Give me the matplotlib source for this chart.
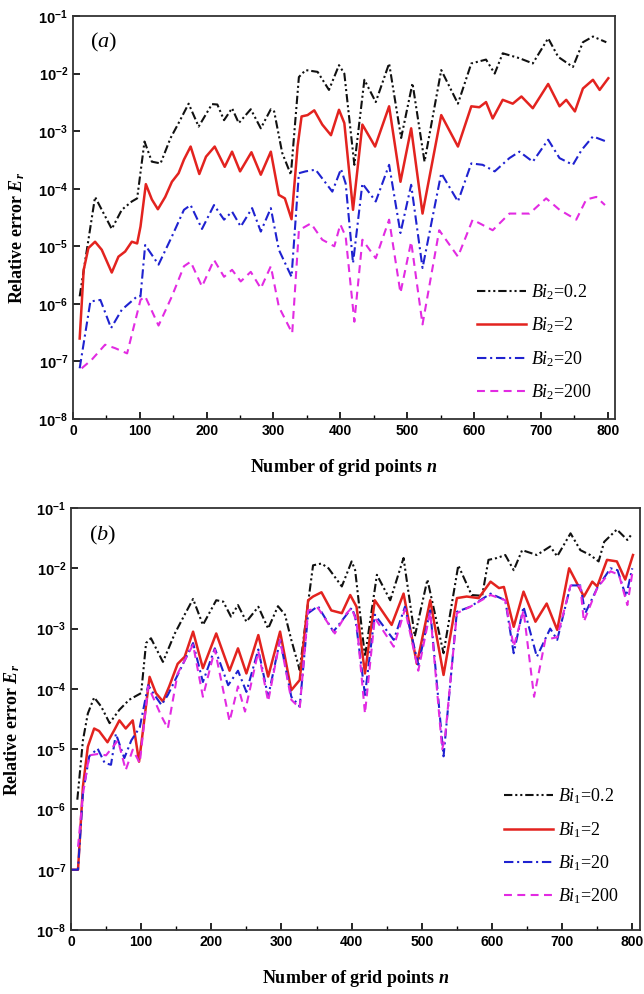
import math
import matplotlib
matplotlib.use("Agg")
import matplotlib.pyplot as plt
from matplotlib.ticker import FixedLocator, FuncFormatter, MultipleLocator, NullLocator

plt.rcParams['mathtext.fontset'] = 'custom'
plt.rcParams['mathtext.rm'] = 'Liberation Serif'
plt.rcParams['mathtext.it'] = 'Liberation Serif:italic'
plt.rcParams['mathtext.bf'] = 'Liberation Serif:bold:italic'
plt.rcParams['mathtext.sf'] = 'Liberation Sans:bold'

# ---------------- Panel (a): Bi2 ----------------
a_n_02 = [10, 33, 58, 73, 88, 96, 107, 118, 131, 146, 158, 173, 188, 208, 216, 226, 238, 248, 266, 281,
          296, 301, 313, 326, 338, 348, 366, 383, 398, 406, 421, 436, 453, 473, 491, 508, 526, 551, 576, 596,
          618, 631, 643, 668, 688, 711, 726, 748, 763, 778, 798]
a_e_02 = [1.35e-6, 7.2e-5, 2.0e-5, 4.3e-5, 6.0e-5, 6.8e-5, 6.6e-4, 2.95e-4, 2.75e-4, 7.6e-4, 1.38e-3, 3.0e-3,
          1.2e-3, 2.95e-3, 2.9e-3, 1.55e-3, 2.5e-3, 1.38e-3, 2.4e-3, 1.12e-3, 2.4e-3, 2.2e-3, 4.2e-4, 1.75e-4,
          8.7e-3, 1.15e-2, 1.07e-2, 5.2e-3, 1.4e-2, 1.0e-2, 2.6e-4, 7.8e-3, 3.2e-3, 1.5e-2, 7.6e-4, 6.8e-3,
          2.95e-4, 1.15e-2, 3.0e-3, 1.5e-2, 1.75e-2, 1.0e-2, 2.25e-2, 1.85e-2, 1.5e-2, 4.1e-2, 1.95e-2, 1.3e-2,
          3.5e-2, 4.4e-2, 3.5e-2]

a_n_2 = [10, 16, 23, 33, 43, 58, 68, 78, 88, 96, 101, 109, 118, 127, 138, 148, 158, 166, 176, 189, 199, 212,
         227, 238, 250, 267, 281, 296, 308, 317, 327, 336, 342, 351, 361, 373, 386, 398, 406, 419, 433, 452,
         473, 490, 506, 523, 551, 576, 596, 608, 618, 628, 643, 658, 671, 688, 711, 728, 738, 751, 763, 778,
         788, 801]
a_e_2 = [2.5e-7, 3.9e-6, 9.3e-6, 1.2e-5, 8.7e-6, 3.5e-6, 6.6e-6, 8.1e-6, 1.2e-5, 1.12e-5, 2.2e-5, 1.2e-4,
         6.5e-5, 4.4e-5, 7.2e-5, 1.32e-4, 1.86e-4, 3.2e-4, 5.4e-4, 1.8e-4, 3.6e-4, 5.4e-4, 2.4e-4, 4.4e-4,
         2.0e-4, 4.3e-4, 1.75e-4, 4.4e-4, 7.8e-5, 6.8e-5, 2.95e-5, 5.4e-4, 1.8e-3, 1.9e-3, 2.3e-3, 1.3e-3,
         8.5e-4, 2.35e-3, 1.38e-3, 4.3e-5, 1.3e-3, 5.4e-4, 2.7e-3, 1.32e-4, 1.12e-3, 3.7e-5, 1.9e-3, 5.4e-4,
         2.7e-3, 2.6e-3, 3.2e-3, 1.66e-3, 3.5e-3, 3.0e-3, 4.0e-3, 2.5e-3, 6.6e-3, 2.7e-3, 3.5e-3, 2.2e-3,
         5.5e-3, 7.8e-3, 5.2e-3, 8.3e-3]

a_n_20 = [10, 26, 41, 57, 73, 96, 101, 108, 128, 148, 166, 176, 193, 211, 226, 238, 251, 268, 281, 296, 308,
          327, 338, 348, 363, 388, 401, 408, 419, 433, 453, 473, 490, 506, 523, 551, 576, 596, 613, 631, 653,
          668, 688, 711, 728, 748, 761, 778, 798]
a_e_20 = [7.6e-8, 1.1e-6, 1.17e-6, 3.8e-7, 7.9e-7, 1.35e-6, 1.35e-6, 1.05e-5, 4.8e-6, 1.48e-5, 4.3e-5, 5.2e-5,
          2.0e-5, 5.2e-5, 2.9e-5, 4.0e-5, 2.2e-5, 4.6e-5, 1.8e-5, 4.6e-5, 8.7e-6, 2.95e-6, 1.86e-4, 2.0e-4,
          2.14e-4, 8.9e-5, 2.2e-4, 1.23e-4, 5.1e-6, 1.23e-4, 6.0e-5, 2.6e-4, 1.7e-5, 1.17e-4, 4.2e-6, 1.86e-4,
          6.0e-5, 2.75e-4, 2.6e-4, 2.0e-4, 3.4e-4, 4.4e-4, 2.95e-4, 7.1e-4, 3.4e-4, 2.6e-4, 4.7e-4, 8.1e-4,
          6.6e-4]

a_n_200 = [13, 28, 48, 63, 81, 101, 108, 128, 148, 166, 176, 193, 211, 226, 238, 251, 266, 281, 296, 308, 328,
           338, 356, 373, 391, 400, 408, 421, 433, 453, 473, 490, 506, 523, 548, 576, 598, 628, 653, 683, 708,
           728, 753, 768, 783, 796]
a_e_200 = [7.6e-8, 1.07e-7, 1.95e-7, 1.7e-7, 1.38e-7, 1.17e-6, 1.35e-6, 4.2e-7, 1.35e-6, 4.5e-6, 5.4e-6,
           2.0e-6, 5.8e-6, 2.95e-6, 3.9e-6, 2.45e-6, 3.6e-6, 1.86e-6, 4.5e-6, 8.9e-7, 3.1e-7, 1.9e-5, 2.5e-5,
           1.3e-5, 1.0e-5, 2.4e-5, 1.48e-5, 4.9e-7, 1.3e-5, 6.2e-6, 2.9e-5, 1.55e-6, 1.2e-5, 4.4e-7, 1.9e-5,
           6.6e-6, 2.9e-5, 1.9e-5, 3.7e-5, 3.7e-5, 6.8e-5, 4.3e-5, 2.9e-5, 6.5e-5, 7.2e-5, 5.2e-5]

# ---------------- Panel (b): Bi1 ----------------
b_n_02 = [9, 17, 24, 33, 43, 55, 69, 83, 100, 107, 114, 131, 148, 162, 174, 188, 207, 217, 228, 238, 250, 267,
          281, 295, 305, 314, 326, 336, 345, 357, 367, 386, 400, 405, 419, 436, 455, 474, 490, 508, 531, 552,
          571, 586, 595, 607, 619, 631, 643, 664, 683, 693, 712, 726, 740, 752, 760, 778, 793, 800]
b_e_02 = [1.45e-6, 1.4e-5, 3.9e-5, 7.2e-5, 5.1e-5, 2.7e-5, 4.5e-5, 6.6e-5, 8.5e-5, 5.75e-4, 6.9e-4, 2.8e-4,
          8.3e-4, 1.7e-3, 3.1e-3, 1.15e-3, 2.95e-3, 2.8e-3, 1.58e-3, 2.45e-3, 1.3e-3, 2.3e-3, 1.0e-3, 2.35e-3,
          1.7e-3, 6.5e-4, 2.05e-4, 1.8e-3, 1.12e-2, 1.2e-2, 1.0e-2, 5.0e-3, 1.3e-2, 9.3e-3, 3.4e-4, 7.8e-3,
          2.95e-3, 1.48e-2, 7.4e-4, 6.5e-3, 3.9e-4, 1.12e-2, 3.6e-3, 3.5e-3, 1.38e-2, 1.48e-2, 1.66e-2, 9.3e-3,
          2.0e-2, 1.66e-2, 2.3e-2, 1.58e-2, 3.8e-2, 2.0e-2, 1.66e-2, 1.3e-2, 2.75e-2, 4.4e-2, 2.95e-2, 3.8e-2]

b_n_2 = [0, 10, 17, 24, 33, 40, 52, 62, 69, 78, 88, 97, 102, 112, 121, 131, 140, 152, 162, 174, 188, 207, 226,
         238, 250, 267, 281, 298, 314, 326, 338, 345, 357, 371, 386, 398, 407, 419, 433, 457, 474, 493, 512,
         531, 550, 564, 581, 598, 610, 617, 631, 645, 662, 678, 693, 710, 731, 743, 750, 764, 778, 790, 801]
b_e_2 = [1e-7, 1e-7, 2.4e-6, 1.1e-5, 2.2e-5, 2.0e-5, 1.3e-5, 2.1e-5, 3.0e-5, 2.2e-5, 3.0e-5, 6.2e-6, 1.8e-5,
         1.58e-4, 8.5e-5, 6.2e-5, 1.1e-4, 2.6e-4, 3.4e-4, 8.9e-4, 2.2e-4, 8.3e-4, 2.0e-4, 4.7e-4, 1.8e-4,
         7.8e-4, 1.6e-4, 8.9e-4, 9.5e-5, 1.4e-4, 2.95e-3, 3.4e-3, 4.0e-3, 2.0e-3, 1.8e-3, 3.6e-3, 2.3e-3,
         1.8e-4, 2.95e-3, 1.15e-3, 3.8e-3, 2.6e-4, 2.95e-3, 1.7e-4, 3.2e-3, 3.4e-3, 3.2e-3, 6.0e-3, 4.7e-3,
         4.9e-3, 1.07e-3, 4.1e-3, 1.3e-3, 2.6e-3, 9.5e-4, 1.0e-2, 3.4e-3, 6.0e-3, 5.0e-3, 1.38e-2, 1.3e-2,
         6.5e-3, 1.66e-2]

b_n_20 = [0, 10, 17, 26, 38, 48, 57, 64, 76, 86, 98, 110, 119, 129, 138, 152, 174, 188, 205, 224, 238, 250,
          267, 281, 298, 314, 326, 338, 352, 374, 391, 400, 405, 419, 433, 460, 476, 495, 512, 531, 550, 569,
          598, 619, 631, 645, 664, 683, 693, 712, 726, 733, 750, 769, 779, 791, 800]
b_e_20 = [1e-7, 1e-7, 1.86e-6, 7.6e-6, 1.02e-5, 5.9e-6, 5.5e-6, 1.8e-5, 7.1e-6, 1.4e-5, 2.3e-5, 1.15e-4,
          7.9e-5, 5.4e-5, 7.9e-5, 1.7e-4, 5.75e-4, 1.3e-4, 4.7e-4, 1.15e-4, 2.0e-4, 8.9e-5, 4.5e-4, 7.4e-5,
          6.5e-4, 7.4e-5, 5.1e-5, 1.8e-3, 2.35e-3, 8.9e-4, 1.6e-3, 2.2e-3, 1.6e-3, 7.9e-5, 1.7e-3, 6.5e-4,
          2.3e-3, 2.5e-4, 2.0e-3, 7.6e-6, 1.9e-3, 2.3e-3, 3.8e-3, 2.95e-3, 3.9e-4, 2.3e-3, 3.4e-4, 1.0e-3,
          6.5e-4, 5.2e-3, 5.2e-3, 1.8e-3, 4.7e-3, 1.0e-2, 9.3e-3, 3.4e-3, 1.0e-2]

b_n_200 = [10, 17, 26, 38, 50, 67, 78, 88, 98, 110, 129, 138, 152, 174, 188, 205, 226, 238, 248, 267, 281, 298,
           314, 326, 338, 352, 376, 393, 400, 407, 419, 433, 460, 476, 495, 512, 529, 533, 550, 569, 598, 619,
           631, 645, 660, 676, 693, 712, 726, 731, 750, 769, 781, 793, 800]
b_e_200 = [2.4e-7, 1.8e-6, 7.9e-6, 8.3e-6, 7.9e-6, 1.4e-5, 4.5e-6, 9.8e-6, 5.9e-6, 1.1e-4, 3.5e-5, 2.2e-5,
           1.8e-4, 5.4e-4, 7.4e-5, 4.5e-4, 2.9e-5, 1.1e-4, 4.2e-5, 4.2e-4, 6.2e-5, 6.5e-4, 6.6e-5, 4.8e-5,
           2.0e-3, 2.2e-3, 8.3e-4, 1.8e-3, 2.2e-3, 1.3e-3, 3.9e-5, 1.5e-3, 5.0e-4, 2.1e-3, 2.0e-4, 1.9e-3,
           1.0e-5, 1.5e-5, 1.8e-3, 2.3e-3, 3.6e-3, 2.95e-3, 5.0e-4, 2.0e-3, 7.4e-5, 6.5e-4, 7.2e-4, 5.2e-3,
           5.0e-3, 1.3e-3, 4.7e-3, 8.9e-3, 7.8e-3, 2.45e-3, 8.3e-3]

bi_values = ['0.2', '2', '20', '200']
x_ticks = [0, 100, 200, 300, 400, 500, 600, 700, 800]
y_ticks = [1e-8, 1e-7, 1e-6, 1e-5, 1e-4, 1e-3, 1e-2, 1e-1]

styles = [
    dict(color='#111111', lw=1.5, ls=(0, (4, 1.4, 1, 1.4, 1, 1.4))),
    dict(color='#e3231f', lw=1.8, ls='-'),
    dict(color='#1f22d0', lw=1.5, ls=(0, (4.5, 1.8, 1, 1.8))),
    dict(color='#e22be2', lw=1.5, ls=(0, (3.8, 2.6))),
]

fig = plt.figure(figsize=(6.44, 9.94), dpi=100)
ax_a = fig.add_axes([73 / 644, 1 - 419 / 994, 542 / 644, 403 / 994])
ax_b = fig.add_axes([71 / 644, 1 - 930 / 994, 569 / 644, 422 / 994])

panels = [
    (ax_a, [(a_n_02, a_e_02), (a_n_2, a_e_2), (a_n_20, a_e_20), (a_n_200, a_e_200)], '2', 'a',
     (-0.085, 0.45)),
    (ax_b, [(b_n_02, b_e_02), (b_n_2, b_e_2), (b_n_20, b_e_20), (b_n_200, b_e_200)], '1', 'b',
     (-0.086, 0.474)),
]


def ytick_fmt(v, p):
    return r'$\mathsf{10^{%d}}$' % round(math.log10(v))


for ax, series, sub, letter, ylab_xy in panels:
    for (n, e), st, bv in zip(series, styles, bi_values):
        ax.plot(n, e, color=st['color'], lw=st['lw'], linestyle=st['ls'],
                label=r'$\mathit{Bi_{%s}}$=%s' % (sub, bv))
    ax.set_yscale('log')
    ax.set_xlim(0, 811)
    ax.set_ylim(1e-8, 1e-1)
    ax.xaxis.set_major_locator(FixedLocator(x_ticks))
    ax.xaxis.set_minor_locator(MultipleLocator(50))
    ax.yaxis.set_major_locator(FixedLocator(y_ticks))
    ax.yaxis.set_minor_locator(NullLocator())
    ax.yaxis.set_major_formatter(FuncFormatter(ytick_fmt))
    ax.xaxis.set_major_formatter(FuncFormatter(lambda v, p: '%d' % v))
    ax.tick_params(which='both', direction='in', top=False, right=False)
    ax.tick_params(which='major', length=5, width=1.2)
    ax.tick_params(which='minor', length=3, width=1.0)
    for lab in ax.get_xticklabels():
        lab.set_fontfamily('Liberation Sans')
        lab.set_fontweight('bold')
        lab.set_fontsize(10)
    for lab in ax.get_yticklabels():
        lab.set_fontsize(10.5)
    for sp in ax.spines.values():
        sp.set_linewidth(1.3)
        sp.set_color('#333333')
    ax.set_xlabel(r'Number of grid points $\mathbf{n}$', fontfamily='Liberation Serif',
                  fontweight='bold', fontsize=13, labelpad=14)
    ax.set_ylabel(r'Relative error $\mathbf{E_r}$', fontfamily='Liberation Serif',
                  fontweight='bold', fontsize=13)
    ax.yaxis.set_label_coords(*ylab_xy)
    ax.text(0.031, 0.935, r'($\mathit{%s}$)' % letter, transform=ax.transAxes, fontsize=16,
            fontfamily='Liberation Serif', va='center', ha='left')

ax_a.legend(loc='lower right', bbox_to_anchor=(0.975, 0.02), frameon=False, borderpad=0,
            prop={'family': 'Liberation Serif', 'size': 13}, handlelength=2.7, handletextpad=0.3,
            labelspacing=0.75)
ax_b.legend(loc='lower right', bbox_to_anchor=(0.98, 0.035), frameon=False, borderpad=0,
            prop={'family': 'Liberation Serif', 'size': 13}, handlelength=2.7, handletextpad=0.3,
            labelspacing=0.75)

fig.savefig('out.png', dpi=100)
